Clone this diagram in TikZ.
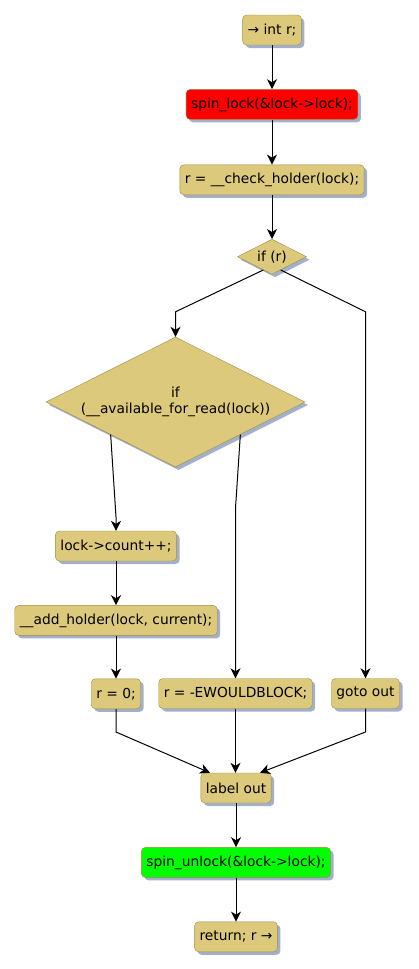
\documentclass[tikz,border=0pt]{standalone}
\usepackage{fontspec}
\setmainfont{DejaVu Sans}
\usetikzlibrary{arrows.meta, positioning, shapes.geometric, shadows, calc}
\definecolor{actfill}{HTML}{DDC97C}
\definecolor{actline}{HTML}{A08A3C}
\definecolor{actshadow}{HTML}{A3B0CC}
\tikzset{
  activity/.style={draw=actline, fill=actfill, rounded corners=4pt, minimum height=30pt,
    inner xsep=5pt, font=\fontsize{13.8}{16}\selectfont,
    general shadow={fill=actshadow, shadow xshift=3pt, shadow yshift=-3pt}},
  decision/.style={diamond, aspect=2, draw=actline, fill=actfill, inner sep=0pt, align=center,
    font=\fontsize{13.8}{16}\selectfont,
    general shadow={fill=actshadow, shadow xshift=3pt, shadow yshift=-3pt}},
  flow/.style={-{Stealth[length=10pt, width=10pt, inset=3pt]}, line width=1pt}
}
\begin{document}
\begin{tikzpicture}[x=1pt, y=-1pt]
        \useasboundingbox (0,0) rectangle (418,969);
        \node[activity] (start) at (272,30) {→ int r;};
        \node[activity, fill=red, below=44pt of start] (spinlock) {spin\_lock(\&lock->lock);};
        \node[activity, below=45pt of spinlock] (check) {r = \_\_check\_holder(lock);};
        \node[decision, minimum width=69pt, minimum height=35pt, below=44pt of check] (ifr) {if (r)};
        \node[decision, minimum width=259pt, minimum height=130pt] (avail) at (175.5,402) {if\\(\_\_available\_for\_read(lock))};
        \node[activity] (count) at (116,546) {lock->count++;};
        \node[activity, below=44pt of count] (holder) {\_\_add\_holder(lock, current);};
        \node[activity, below=43pt of holder] (zero) {r = 0;};
        \node[activity] (wouldblock) at (235.5,693.5) {r = -EWOULDBLOCK;};
        \node[activity] (gotoout) at (365.5,693.5) {goto out};
        \node[activity] (labelout) at (236,788) {label out};
        \node[activity, fill=green, below=44pt of labelout] (unlock) {spin\_unlock(\&lock->lock);};
        \node[activity, below=44pt of unlock] (ret) {return; r →};

        \draw[flow] (start) -- (spinlock);
        \draw[flow] (spinlock) -- (check);
        \draw[flow] (check) -- (ifr);
        % if (r): both branches
        \coordinate (splitL) at ([yshift=25pt]avail.north);
        \draw[flow] ($(ifr.south)!0.25!(ifr.west)$) -- (splitL) -- (avail.north);
        \draw[flow] ($(ifr.south)!0.25!(ifr.east)$) -- (gotoout.north |- splitL) -- (gotoout.north);
        % available_for_read: both branches
        \draw[flow] (avail.south west) -- ([yshift=14pt]count.north) -- (count.north);
        \coordinate (bendR) at ([yshift=-41pt]avail.south);
        \draw[flow] (avail.south east) -- (wouldblock.north |- bendR) -- (wouldblock.north);
        \draw[flow] (count) -- (holder);
        \draw[flow] (holder) -- (zero);
        % merge at label out
        \coordinate (join) at ([yshift=-23pt]zero.south);
        \draw[flow] (zero.south) -- (join) -- ([xshift=-26pt]labelout.north);
        \draw[flow] (wouldblock.south) -- (wouldblock.south |- labelout.north);
        \draw[flow] (gotoout.south) -- (gotoout.south |- join) -- ([xshift=24pt]labelout.north);
        \draw[flow] (labelout) -- (unlock);
        \draw[flow] (unlock) -- (ret);
\end{tikzpicture}
\end{document}
